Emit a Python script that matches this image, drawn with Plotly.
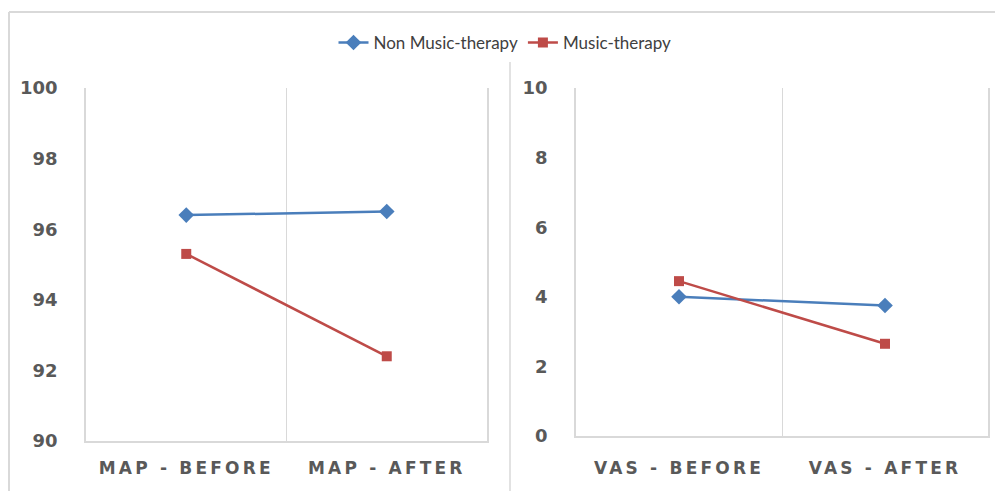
import plotly.graph_objects as go

map_categories = ["MAP - BEFORE", "MAP - AFTER"]
vas_categories = ["VAS - BEFORE", "VAS - AFTER"]
series_names = ["Non Music-therapy", "Music-therapy"]
map_non_music = [96.4, 96.5]
map_music = [95.3, 92.4]
vas_non_music = [4.0, 3.75]
vas_music = [4.45, 2.65]
map_ticks = [90, 92, 94, 96, 98, 100]
vas_ticks = [0, 2, 4, 6, 8, 10]

BLUE = "#4A7EBB"
RED = "#BE4B48"
GRID = "#D9D9D9"
TXT = "#595959"

# page has an 8px body margin; size the figure so it fills the window exactly
OFF = 8
W, H = 1003 - OFF, 491 - OFF

def px(v):
    return max(0.0, (v - OFF) / W)

def py(v):
    return 1 - (v - OFF) / H

def spaced(s):
    return '<span style="letter-spacing:3.2px">' + s + "</span>"

fig = go.Figure()

fig.add_trace(go.Scatter(x=map_categories, y=map_non_music, name=series_names[0],
                         mode="lines+markers", xaxis="x", yaxis="y",
                         line=dict(color=BLUE, width=2.5),
                         marker=dict(symbol="diamond", size=12, color=BLUE)))
fig.add_trace(go.Scatter(x=map_categories, y=map_music, name=series_names[1],
                         mode="lines+markers", xaxis="x", yaxis="y",
                         line=dict(color=RED, width=2.5),
                         marker=dict(symbol="square", size=10, color=RED)))
fig.add_trace(go.Scatter(x=vas_categories, y=vas_non_music, name=series_names[0],
                         mode="lines+markers", xaxis="x2", yaxis="y2", showlegend=False,
                         line=dict(color=BLUE, width=2.5),
                         marker=dict(symbol="diamond", size=12, color=BLUE)))
fig.add_trace(go.Scatter(x=vas_categories, y=vas_music, name=series_names[1],
                         mode="lines+markers", xaxis="x2", yaxis="y2", showlegend=False,
                         line=dict(color=RED, width=2.5),
                         marker=dict(symbol="square", size=10, color=RED)))

tickfont = dict(family="DejaVu Sans", size=17, color=TXT, weight="bold")
ytickfont = dict(family="DejaVu Sans", size=18, color=TXT, weight="bold")

xcommon = dict(type="category", range=[-0.5, 1.5], tickson="boundaries", showgrid=True,
               gridcolor=GRID, gridwidth=1.2, showline=True, linecolor=GRID, linewidth=1.5,
               ticks="", tickfont=tickfont, zeroline=False,
               automargin=False, fixedrange=True)
ycommon = dict(showgrid=False, showline=True, mirror=True, linecolor=GRID, linewidth=1.5,
               zeroline=False, ticks="", tickfont=ytickfont, ticklabelstandoff=23,
               automargin=False, fixedrange=True)

fig.update_layout(
    width=W, height=H,
    margin=dict(l=0, r=0, t=0, b=0, autoexpand=False),
    paper_bgcolor="white", plot_bgcolor="white",
    font=dict(family="DejaVu Sans", color=TXT),
    xaxis=dict(domain=[px(86), px(487)], anchor="y", ticklabelstandoff=11,
               tickvals=map_categories, ticktext=[spaced(c) for c in map_categories], **xcommon),
    yaxis=dict(domain=[py(441), py(88)], anchor="x", range=[90, 100],
               tickvals=map_ticks, **ycommon),
    xaxis2=dict(domain=[px(576), px(988)], anchor="y2", ticklabelstandoff=16,
                tickvals=vas_categories, ticktext=[spaced(c) for c in vas_categories], **xcommon),
    yaxis2=dict(domain=[py(436), py(88)], anchor="x2", range=[0, 10],
                tickvals=vas_ticks, **ycommon),
    legend=dict(orientation="h", x=px(505), xanchor="center", y=py(43), yanchor="middle",
                font=dict(family="Liberation Sans Narrow, Arial Narrow, Lato", size=17, color="#404040"),
                itemwidth=30, tracegroupgap=0, bgcolor="rgba(0,0,0,0)"),
    shapes=[
        dict(type="line", xref="paper", yref="paper", x0=px(9), x1=1, y0=py(12), y1=py(12),
             line=dict(color=GRID, width=2)),
        dict(type="line", xref="paper", yref="paper", x0=px(9), x1=px(9), y0=py(12), y1=0,
             line=dict(color=GRID, width=2)),
        dict(type="line", xref="paper", yref="paper", x0=px(510), x1=px(510), y0=py(62), y1=0,
             line=dict(color=GRID, width=1.5)),
    ],
)

fig.write_html("out.html")
